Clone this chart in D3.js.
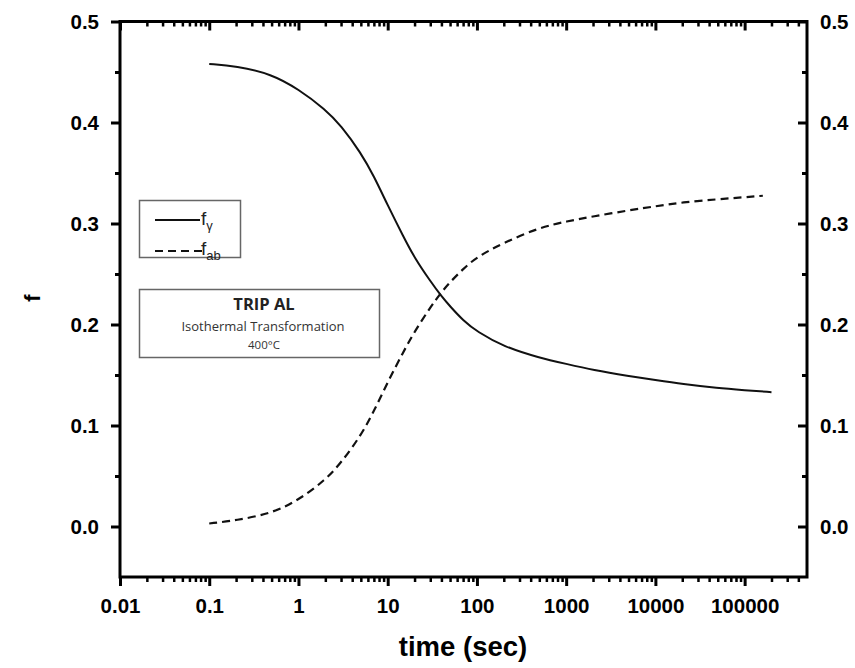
<!DOCTYPE html>
<html>
<head>
<meta charset="utf-8">
<script src="https://cdn.jsdelivr.net/npm/d3@7"></script>
<style>
  body { margin: 0; background: #fff; }
  svg { display: block; }
</style>
</head>
<body>
<svg id="chart"></svg>
<script>
// time points (sec)
const timesGamma = [0.1, 0.2, 0.5, 1, 2, 3, 5, 7, 10, 15, 20, 30, 40, 50, 70, 100, 200, 500, 1000, 2000, 5000, 10000, 20000, 50000, 100000, 200000];
const fGamma = [0.458, 0.456, 0.448, 0.433, 0.413, 0.397, 0.370, 0.347, 0.318, 0.287, 0.266, 0.243, 0.228, 0.218, 0.204, 0.193, 0.178, 0.167, 0.161, 0.155, 0.149, 0.145, 0.141, 0.137, 0.135, 0.133];

const timesAb = [0.1, 0.2, 0.5, 1, 2, 3, 5, 7, 10, 15, 20, 30, 40, 50, 70, 100, 200, 500, 1000, 2000, 5000, 10000, 20000, 50000, 100000, 160000];
const fAb = [0.003, 0.006, 0.013, 0.026, 0.046, 0.063, 0.090, 0.114, 0.143, 0.173, 0.193, 0.217, 0.232, 0.242, 0.255, 0.267, 0.281, 0.296, 0.302, 0.307, 0.313, 0.317, 0.321, 0.324, 0.326, 0.3275];

const xTicks = [0.01, 0.1, 1, 10, 100, 1000, 10000, 100000];
const yTicks = [0.0, 0.1, 0.2, 0.3, 0.4, 0.5];
const yMinor = [0.05, 0.15, 0.25, 0.35, 0.45];

const W = 855, H = 668;
const margin = { top: 21.5, right: 48, bottom: 91, left: 120 };
const width = W - margin.left - margin.right;
const height = H - margin.top - margin.bottom;

const svg = d3.select("#chart").attr("width", W).attr("height", H);
const g = svg.append("g").attr("transform", `translate(${margin.left},${margin.top})`);

const x = d3.scaleLog().domain([0.01, 500000]).range([0, width]);
const y = d3.scaleLinear().domain([-0.05, 0.5]).range([height, 0]);

// minor log ticks 2..9 per decade
const xMinor = [];
for (let e = -2; e <= 5; e++) {
  for (let m = 2; m <= 9; m++) {
    const v = m * Math.pow(10, e);
    if (v < 500000) xMinor.push(v);
  }
}

const axisFont = "'Liberation Sans', Arial, sans-serif";

function styleAxis(sel, w) {
  sel.select(".domain").remove();
  sel.selectAll(".tick line").attr("stroke", "#000").attr("stroke-width", w);
  sel.selectAll("text")
    .attr("fill", "#000")
    .style("font-family", axisFont)
    .style("font-size", "20.5px")
    .style("font-weight", "bold");
}

// bottom
g.append("g").attr("transform", `translate(0,${height})`)
  .call(d3.axisBottom(x).tickValues(xMinor).tickSize(5).tickFormat(""))
  .call(s => styleAxis(s, 2.5));
g.append("g").attr("transform", `translate(0,${height})`)
  .call(d3.axisBottom(x).tickValues(xTicks).tickSize(9).tickPadding(12).tickFormat(d3.format("~f")))
  .call(s => styleAxis(s, 3));

// top (ticks inward)
g.append("g")
  .call(d3.axisTop(x).tickValues(xMinor).tickSize(-5).tickFormat(""))
  .call(s => styleAxis(s, 2.5));
g.append("g")
  .call(d3.axisTop(x).tickValues(xTicks).tickSize(-9).tickFormat(""))
  .call(s => styleAxis(s, 3));

// left
g.append("g")
  .call(d3.axisLeft(y).tickValues(yMinor).tickSize(5).tickFormat(""))
  .call(s => styleAxis(s, 3));
g.append("g")
  .call(d3.axisLeft(y).tickValues(yTicks).tickSize(9).tickPadding(12).tickFormat(d3.format(".1f")))
  .call(s => styleAxis(s, 3));

// right (ticks inward, labels outside)
g.append("g").attr("transform", `translate(${width},0)`)
  .call(d3.axisRight(y).tickValues(yMinor).tickSize(-5).tickFormat(""))
  .call(s => styleAxis(s, 3));
g.append("g").attr("transform", `translate(${width},0)`)
  .call(d3.axisRight(y).tickValues(yTicks).tickSize(-9).tickPadding(13).tickFormat(d3.format(".1f")))
  .call(s => styleAxis(s, 3));

// frame
g.append("rect")
  .attr("x", 0).attr("y", 0).attr("width", width).attr("height", height)
  .attr("fill", "none").attr("stroke", "#000").attr("stroke-width", 3);

// curves
const line = d3.line().curve(d3.curveBasis)
  .x(d => x(d[0])).y(d => y(d[1]));

g.append("path")
  .datum(timesGamma.map((t, i) => [t, fGamma[i]]))
  .attr("d", line)
  .attr("fill", "none").attr("stroke", "#111").attr("stroke-width", 2);

g.append("path")
  .datum(timesAb.map((t, i) => [t, fAb[i]]))
  .attr("d", line)
  .attr("fill", "none").attr("stroke", "#111").attr("stroke-width", 2.2)
  .attr("stroke-dasharray", "8,5");

// legend
const leg = svg.append("g");
leg.append("rect")
  .attr("x", 139.5).attr("y", 200.5).attr("width", 101).attr("height", 57)
  .attr("fill", "#fff").attr("stroke", "#666").attr("stroke-width", 1.5);
leg.append("line").attr("x1", 155).attr("x2", 200).attr("y1", 220).attr("y2", 220)
  .attr("stroke", "#111").attr("stroke-width", 2);
leg.append("line").attr("x1", 155).attr("x2", 202).attr("y1", 251).attr("y2", 251)
  .attr("stroke", "#111").attr("stroke-width", 2.2).attr("stroke-dasharray", "8,5");

const legText = (yy, sub) => {
  const t = leg.append("text").attr("x", 201).attr("y", yy)
    .style("font-family", "'Liberation Sans', Arial, sans-serif")
    .style("font-size", "19px").attr("fill", "#222");
  t.append("tspan").text("f");
  t.append("tspan").attr("dy", 5).style("font-size", "13px").text(sub);
};
legText(225, "γ");
legText(255, "ab");

// annotation box
const ann = svg.append("g");
ann.append("rect")
  .attr("x", 139.5).attr("y", 289.5).attr("width", 240).attr("height", 68)
  .attr("fill", "#fff").attr("stroke", "#666").attr("stroke-width", 1.5);
ann.append("text").attr("x", 264).attr("y", 310).attr("text-anchor", "middle")
  .style("font-family", "'Open Sans', sans-serif").style("font-size", "16.5px")
  .style("font-weight", "bold").attr("fill", "#222").text("TRIP AL");
ann.append("text").attr("x", 263).attr("y", 331).attr("text-anchor", "middle")
  .style("font-family", "'Open Sans', sans-serif").style("font-size", "13px")
  .attr("fill", "#333").text("Isothermal Transformation");
ann.append("text").attr("x", 264).attr("y", 349).attr("text-anchor", "middle")
  .style("font-family", "'Open Sans', sans-serif").style("font-size", "11.5px")
  .attr("fill", "#333").text("400°C");

// axis titles
svg.append("text")
  .attr("x", 463).attr("y", 656).attr("text-anchor", "middle")
  .style("font-family", axisFont).style("font-size", "27.5px").style("font-weight", "bold")
  .text("time (sec)");
svg.append("text")
  .attr("transform", "translate(40,298) rotate(-90)").attr("text-anchor", "middle")
  .style("font-family", axisFont).style("font-size", "22px").style("font-weight", "bold")
  .text("f");
</script>
</body>
</html>
